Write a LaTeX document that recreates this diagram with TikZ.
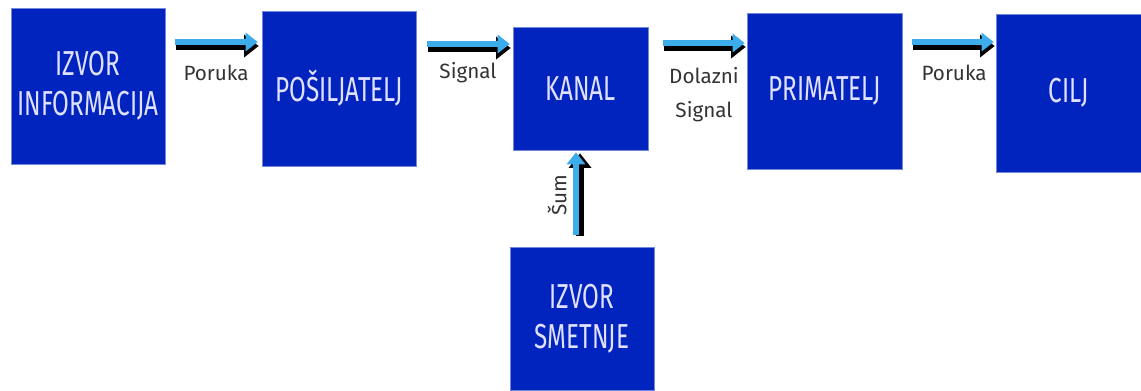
\documentclass[tikz,border=0pt]{standalone}
\usepackage{fontspec}
\setmainfont{Fira Sans}
\newfontfamily\boxfont[FakeStretch=0.7]{Fira Sans}
\usetikzlibrary{arrows.meta}
\definecolor{boxblue}{RGB}{2,36,190}
\definecolor{arrowblue}{RGB}{60,172,235}
\definecolor{labelgray}{RGB}{51,51,51}
\tikzset{
  stage/.style={fill=boxblue, draw=boxblue!55!white, line width=0.4pt, text=white!88!blue,
    align=center, inner sep=0pt, font=\boxfont\fontsize{26}{30}\selectfont},
  caption/.style={text=labelgray, align=center, inner sep=0pt, font=\fontsize{15.5}{25.5}\selectfont},
  flowback/.style={draw=black, line width=6pt, -{Triangle[length=11pt,width=16.5pt]},
    transform canvas={shift={#1}}},
  flowback/.default={(0.75pt,-3pt)},
  flow/.style={draw=arrowblue, line width=4.5pt, -{Triangle[length=9pt,width=13.5pt]}}
}
\begin{document}
\begin{tikzpicture}[x=0.75pt, y=-0.75pt]
	\useasboundingbox (0,0) rectangle (1141,390);
	\node[stage, minimum width=115.5pt, minimum height=117pt] (izvor) at (88, 86) {IZVOR\\INFORMACIJA};
	\node[stage, minimum width=115.5pt, minimum height=116.25pt] (posiljatelj) at (339, 88.5) {POŠILJATELJ};
	\node[stage, minimum width=101.25pt, minimum height=92.25pt] (kanal) at (580.5, 88.5) {KANAL};
	\node[stage, minimum width=116.25pt, minimum height=117pt] (primatelj) at (824.5, 91) {PRIMATELJ};
	\node[stage, minimum width=108.75pt, minimum height=118.5pt] (cilj) at (1068.5, 93) {CILJ};
	\node[stage, minimum width=108pt, minimum height=107.25pt] (smetnje) at (582, 318.5) {IZVOR\\SMETNJE};
	\node[caption] (poruka1) at (216, 73) {Poruka};
	\node[caption] (signal) at (468, 73) {Signal};
	\node[caption] (dolazni) at (704, 95) {Dolazni\\Signal};
	\node[caption] (poruka2) at (954, 73) {Poruka};
	\node[caption, rotate=90] (sum) at (557, 195) {Šum};
	\draw[flowback] ([shift={(10,-44)}]izvor.east) -- ([shift={(-4,-46.5)}]posiljatelj.west);
	\draw[flow] ([shift={(10,-44)}]izvor.east) -- ([shift={(-4,-46.5)}]posiljatelj.west);
	\draw[flowback] ([shift={(11,-44.5)}]posiljatelj.east) -- ([shift={(-3,-44.5)}]kanal.west);
	\draw[flow] ([shift={(11,-44.5)}]posiljatelj.east) -- ([shift={(-3,-44.5)}]kanal.west);
	\draw[flowback] ([shift={(15,-45.5)}]kanal.east) -- ([shift={(-2,-48)}]primatelj.west);
	\draw[flow] ([shift={(15,-45.5)}]kanal.east) -- ([shift={(-2,-48)}]primatelj.west);
	\draw[flowback] ([shift={(10,-49)}]primatelj.east) -- ([shift={(-2,-51)}]cilj.west);
	\draw[flow] ([shift={(10,-49)}]primatelj.east) -- ([shift={(-2,-51)}]cilj.west);
	\draw[flowback={(3pt,-0.75pt)}] ([shift={(-6,-12)}]smetnje.north) -- ([shift={(-4.5,2)}]kanal.south);
	\draw[flow] ([shift={(-6,-12)}]smetnje.north) -- ([shift={(-4.5,2)}]kanal.south);
\end{tikzpicture}
\end{document}
